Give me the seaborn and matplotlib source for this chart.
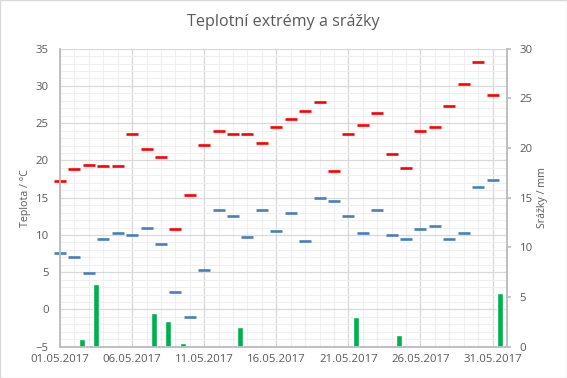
import pandas as pd
import numpy as np
import matplotlib
matplotlib.use("Agg")
import matplotlib.pyplot as plt
import matplotlib.dates as mdates
from matplotlib.ticker import MultipleLocator, FixedLocator
import seaborn as sns

# data (May 2017)
dates = pd.date_range("2017-05-01", "2017-05-31", freq="D")
t_max = [17.3, 18.9, 19.4, 19.3, 19.3, 23.5, 21.5, 20.4, 10.8, 15.3,
         22.1, 24.0, 23.5, 23.5, 22.3, 24.5, 25.6, 26.7, 27.8, 18.6,
         23.5, 24.7, 26.4, 20.9, 19.0, 23.9, 24.5, 27.3, 30.2, 33.2, 28.8]
t_min = [7.6, 7.0, 4.9, 9.4, 10.3, 10.0, 10.9, 8.8, 2.3, -1.0,
         5.3, 13.3, 12.5, 9.7, 13.4, 10.5, 12.9, 9.2, 14.9, 14.5,
         12.6, 10.2, 13.3, 10.0, 9.4, 10.8, 11.2, 9.4, 10.2, 16.5, 17.4]
rain = [0.0, 0.8, 6.3, 0.2, 0.0, 0.0, 3.4, 2.6, 0.4, 0.0,
        0.0, 0.0, 2.0, 0.2, 0.0, 0.0, 0.0, 0.0, 0.0, 0.0,
        3.0, 0.0, 0.0, 1.2, 0.0, 0.0, 0.0, 0.0, 0.0, 0.0, 5.4]
major_dates = ["2017-05-01", "2017-05-06", "2017-05-11", "2017-05-16",
               "2017-05-21", "2017-05-26", "2017-05-31"]

df = pd.DataFrame({"date": dates, "tmax": t_max, "tmin": t_min, "rain": rain})

sns.set_theme(style="white")
plt.rcParams["font.family"] = ["Open Sans", "DejaVu Sans"]
grey = "#595959"

fig = plt.figure(figsize=(5.67, 3.78), dpi=100)
ax = fig.add_axes([60 / 567, 1 - 346.7 / 378, 447 / 567, 298 / 378])
ax2 = ax.twinx()

# precipitation bars, centred in the middle of each day
wet = df[df["rain"] > 0]
ax2.bar(wet["date"] + pd.Timedelta(hours=12), wet["rain"], width=0.42,
        color="#00B050", zorder=2)

sns.scatterplot(data=df, x="date", y="tmax", marker="_", s=75, linewidth=1.9,
                color="#FF0000", ax=ax, zorder=3, legend=False)
sns.scatterplot(data=df, x="date", y="tmin", marker="_", s=75, linewidth=1.9,
                color="#4A7EBB", ax=ax, zorder=3, legend=False)
for c in ax.collections:
    c.set_clip_on(False)

ax.set_xlim(pd.Timestamp("2017-05-01"), pd.Timestamp("2017-06-01"))
ax.set_ylim(-5, 35)
ax2.set_ylim(0, 30)
ax.yaxis.set_major_locator(MultipleLocator(5))
ax.yaxis.set_minor_locator(MultipleLocator(1))
ax2.yaxis.set_major_locator(MultipleLocator(5))
ax.xaxis.set_major_locator(FixedLocator(mdates.date2num(pd.to_datetime(major_dates))))
ax.xaxis.set_minor_locator(mdates.DayLocator())
ax.xaxis.set_major_formatter(mdates.DateFormatter("%d.%m.%Y"))

ax.grid(which="major", color="#d9d9d9", linewidth=0.9)
ax.grid(which="minor", color="#efefef", linewidth=0.8)
ax.set_axisbelow(True)
ax2.grid(False)

for a in (ax, ax2):
    for s in a.spines.values():
        s.set_visible(False)
    for side in ("left", "right", "bottom"):
        a.spines[side].set_visible(True)
        a.spines[side].set_color("#bfbfbf")

ax.tick_params(axis="both", which="both", length=0, labelsize=8.2, colors=grey)
ax.tick_params(axis="y", pad=8)
ax.tick_params(axis="x", pad=5)
ax2.tick_params(axis="y", which="major", length=3, color="#bfbfbf",
                labelsize=8.2, colors=grey, pad=6, direction="out", right=True)

ax.set_xlabel("")
ax.set_ylabel("Teplota / °C", fontsize=7.7, color=grey)
ax2.set_ylabel("Srážky / mm", fontsize=7.7, color=grey)
ax.yaxis.set_label_coords(-29 / 447, 0.5)
ax2.yaxis.set_label_coords(1 + 30 / 447, 0.5)

fig.text(0.5, 1 - 22 / 378, "Teplotní extrémy a srážky", ha="center",
         va="center", fontsize=11.6, color=grey)
fig.patches.append(plt.Rectangle((0, 0), 1, 1, transform=fig.transFigure,
                                 fill=False, edgecolor="#d9d9d9", linewidth=1))

fig.savefig("out.png", dpi=100)
